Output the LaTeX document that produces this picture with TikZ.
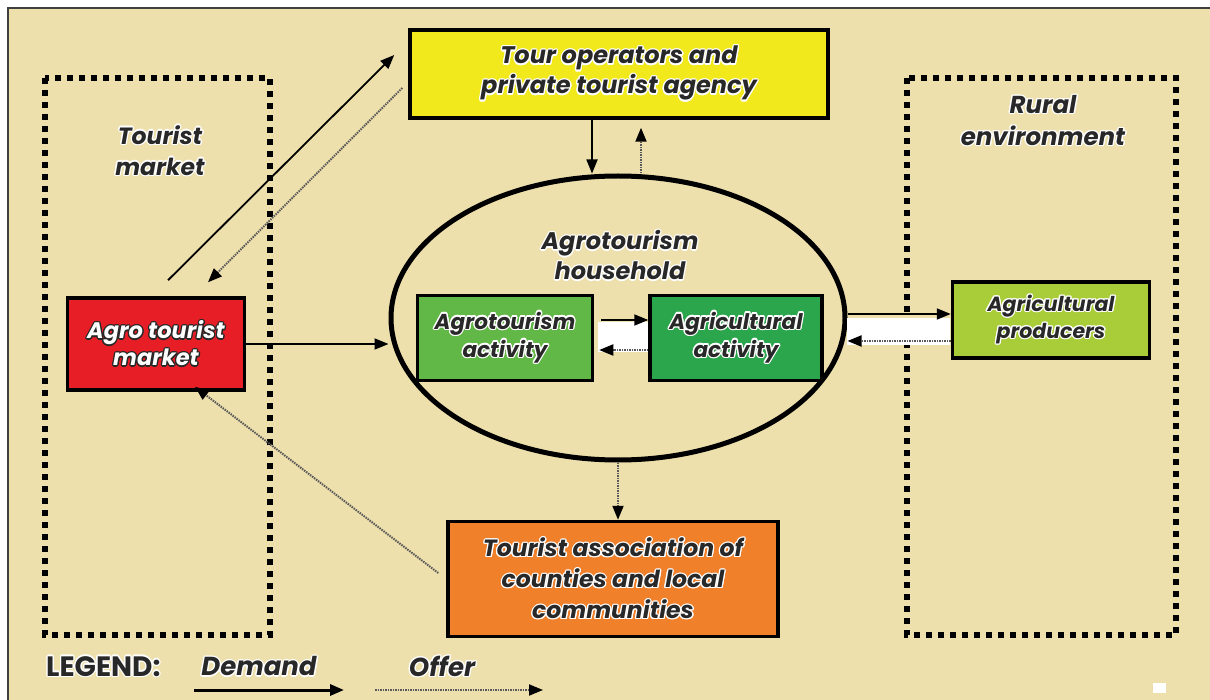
\documentclass[tikz,border=0pt]{standalone}
\usepackage{fontspec}
\newfontfamily\gothic{Poppins}
\usepackage{contour}
\usetikzlibrary{arrows.meta}
\usetikzlibrary{shapes.geometric}
\usetikzlibrary{positioning}

\definecolor{bgbeige}{RGB}{238,224,172}
\definecolor{agrored}{RGB}{232,30,38}
\definecolor{touryellow}{RGB}{241,233,28}
\definecolor{actgreen}{RGB}{98,184,70}
\definecolor{agrigreen}{RGB}{44,166,76}
\definecolor{prodgreen}{RGB}{168,205,56}
\definecolor{assocorange}{RGB}{240,128,42}
\definecolor{inkgray}{RGB}{40,40,40}

% white rim round the lettering (dark rim on the red box)
\contourlength{1.3pt}
\contournumber{12}
\newcommand{\halo}[1]{\contour{white}{#1}}
\newcommand{\darkhalo}[1]{\contour{inkgray}{\textcolor{white}{#1}}}

\begin{document}
\begin{tikzpicture}[x=1pt,y=-1pt,
  box/.style={draw=black, line width=3.5pt, align=center, inner sep=0pt,
    text=inkgray},
  zone/.style={draw=black, line width=6pt, dash pattern=on 6pt off 6pt},
  lbl/.style={align=center, text=inkgray, inner sep=0pt},
  gothictext/.style 2 args={font=\gothic\bfseries\itshape\fontsize{#1}{#2}\selectfont},
  demand/.style={draw=black, line width=1.8pt,
    -{Triangle[length=14pt,width=11pt]}},
  offer/.style={draw=black!65, line width=2pt, dash pattern=on 1.5pt off 1pt,
    -{Triangle[length=14pt,width=11pt,color=black]}}
]

  % paper and frame
  \useasboundingbox (0,0) rectangle (1210,700);
  \fill[white] (0,0) rectangle (1210,700);
  \fill[bgbeige] (8,8) rectangle (1210,700);
  \draw[line width=1.5pt, black!75] (8,700) -- (8,8) -- (1210,8);

  % dotted zones
  \draw[zone] (45,78) rectangle (270,635);
  \draw[zone] (907,78) rectangle (1176,635);

  \node[lbl, gothictext={23.5}{31}] (tourmkt) at (160,151)
    {\halo{Tourist}\\\halo{market}};
  \node[lbl, gothictext={24.5}{32}] (rural) at (1043,121)
    {\halo{Rural}\\\halo{environment}};

  % household ellipse
  \node[ellipse, draw=black, line width=5pt, minimum width=454pt,
    minimum height=284pt] (house) at (618,318) {};
  \node[lbl, gothictext={24}{30}] (hhlabel) at (620,256)
    {\halo{Agrotourism}\\\halo{household}};

  % boxes
  \node[box, fill=agrored, minimum width=177pt, minimum height=92pt,
    gothictext={22.5}{27}] (agromkt) at (156,344)
    {\darkhalo{Agro tourist}\\\darkhalo{market}};
  \node[box, fill=touryellow, minimum width=418pt, minimum height=88pt,
    gothictext={24}{30}] (tourop) at (619,74)
    {\halo{Tour operators and}\\\halo{private tourist agency}};
  \node[box, fill=actgreen, minimum width=175pt, minimum height=85pt,
    gothictext={21.5}{28}] (agroact) at (505,338)
    {\halo{Agrotourism}\\\halo{activity}};
  \node[box, fill=agrigreen, minimum width=172pt, minimum height=85pt,
    gothictext={21.5}{28}] (agriact) at (736,338)
    {\halo{Agricultural}\\\halo{activity}};
  \node[box, fill=prodgreen, minimum width=197pt, minimum height=76pt,
    gothictext={20.5}{27}] (producers) at (1051,320)
    {\halo{Agricultural}\\\halo{producers}};
  \node[box, fill=assocorange, minimum width=330pt, minimum height=115pt,
    gothictext={23.5}{31}] (assoc) at (613,579)
    {\halo{Tourist association of}\\\halo{counties and local}\\\halo{communities}};

  % white bands behind the paired arrows
  \fill[white] (598,322) rectangle (648,352);
  \fill[white] (847,318) rectangle (950,345);

  % demand flows
  \draw[demand] ([xshift=12pt,yshift=16pt]agromkt.north)
    -- ([xshift=-14pt,yshift=19pt]tourop.west);
  \draw[demand] (agromkt.east) -- (agromkt.east -| house.west);
  \draw[demand] ([xshift=-27pt]tourop.south)
    -- ([xshift=-27pt]tourop.south |- house.north);
  \draw[demand, shorten <=7pt] ([yshift=18pt]agroact.east)
    -- ([yshift=18pt]agriact.west);
  \draw[demand] ([yshift=6pt]producers.west -| house.east)
    -- ([yshift=6pt]producers.west);

  % offer flows
  \draw[offer] ([xshift=-6pt,yshift=-14pt]tourop.west)
    -- ([xshift=52pt,yshift=14pt]agromkt.north);
  \draw[offer] ([xshift=-8pt,yshift=6pt]assoc.west)
    -- ([xshift=39pt,yshift=5pt]agromkt.south);
  \draw[offer, shorten >=8pt] ([xshift=22pt]tourop.south |- house.north)
    -- ([xshift=22pt]tourop.south);
  \draw[offer] (house.south) -- (house.south |- assoc.north);
  \draw[offer, shorten >=5pt] ([yshift=-12pt]agriact.west)
    -- ([yshift=-12pt]agroact.east);
  \draw[offer] ([yshift=-21pt]producers.west)
    -- ([yshift=-21pt]producers.west -| house.east);

  % legend
  \node[lbl, font=\gothic\bfseries\fontsize{28}{30}\selectfont, anchor=west]
    (legend) at (46,667) {\halo{LEGEND:}};
  \node[lbl, gothictext={26}{28}] (demlbl) at (259,667) {\halo{Demand}};
  \node[lbl, gothictext={26}{28}] (offlbl) at (442,667) {\halo{Offer}};
  \coordinate (demA) at (194,690);
  \coordinate (demB) at (344,690);
  \coordinate (offA) at (375,690);
  \coordinate (offB) at (543,690);
  \draw[demand, line width=3pt] (demA) -- (demB);
  \draw[offer] (offA) -- (offB);

  \fill[white] (1153,683) rectangle (1166,693);

\end{tikzpicture}
\end{document}
